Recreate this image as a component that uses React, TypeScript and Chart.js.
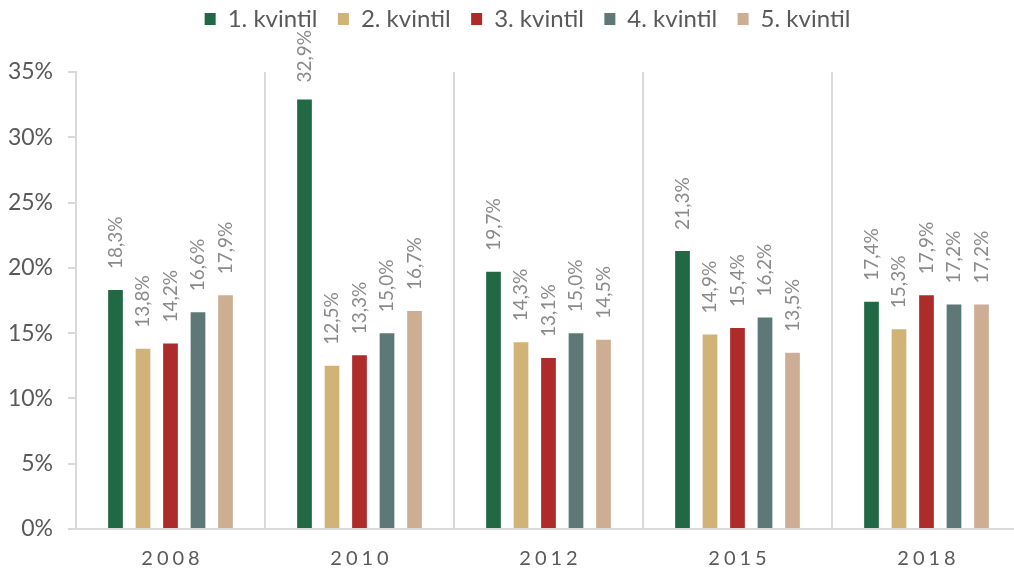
import React, { useEffect, useRef } from 'react';
import { Chart, registerables } from 'chart.js';

Chart.register(...registerables);

const FONT = 'Lato, "DejaVu Sans", sans-serif';

const categories = ['2008', '2010', '2012', '2015', '2018'];
const seriesNames = ['1. kvintil', '2. kvintil', '3. kvintil', '4. kvintil', '5. kvintil'];
const kvintil1 = [18.3, 32.9, 19.7, 21.3, 17.4];
const kvintil2 = [13.8, 12.5, 14.3, 14.9, 15.3];
const kvintil3 = [14.2, 13.3, 13.1, 15.4, 17.9];
const kvintil4 = [16.6, 15.0, 15.0, 16.2, 17.2];
const kvintil5 = [17.9, 16.7, 14.5, 13.5, 17.2];
const seriesValues = [kvintil1, kvintil2, kvintil3, kvintil4, kvintil5];
const seriesColors = ['#206944', '#d2b377', '#ad2c29', '#5d7877', '#ceae93'];
const yMin = 0;
const yMax = 35;
const yStep = 5;

const fmt = (v: number) => v.toFixed(1).replace('.', ',') + '%';

const LEGEND_PAD = 20.5;
const LEGEND_TOP = 19 - LEGEND_PAD - 12;

const legendHeight = {
  id: 'legendHeight',
  beforeInit(chart: any) {
    const orig = chart.legend.fit;
    chart.legend.fit = function fit() {
      orig.call(this);
      this.height = 72 - LEGEND_TOP;
    };
  },
  afterLayout(chart: any) {
    const lg = chart.legend;
    if (lg) {
      lg.left += 17;
      lg.right += 17;
    }
  },
};

const valueLabels = {
  id: 'valueLabels',
  afterDatasetsDraw(chart: any) {
    const ctx = chart.ctx;
    ctx.save();
    ctx.font = `19px ${FONT}`;
    ctx.fillStyle = '#8a8a8a';
    ctx.textAlign = 'left';
    ctx.textBaseline = 'middle';
    chart.data.datasets.forEach((ds: any, di: number) => {
      const meta = chart.getDatasetMeta(di);
      meta.data.forEach((bar: any, i: number) => {
        const text = fmt(ds.data[i]);
        const w = ctx.measureText(text).width;
        let start = bar.y - 21;
        if (start - w < 30) start = 30 + w;
        ctx.save();
        ctx.translate(bar.x, start);
        ctx.rotate(-Math.PI / 2);
        ctx.fillText(text, 0, 0);
        ctx.restore();
      });
    });
    ctx.restore();
  },
};

const xLabels = {
  id: 'xLabels',
  afterDraw(chart: any) {
    const ctx = chart.ctx;
    const xs = chart.scales.x;
    ctx.save();
    ctx.font = `20px ${FONT}`;
    ctx.fillStyle = '#595959';
    ctx.textAlign = 'left';
    ctx.textBaseline = 'alphabetic';
    const sp = 4;
    try { (ctx as any).letterSpacing = sp + 'px'; } catch (e) {}
    (chart.data.labels as string[]).forEach((c: string, i: number) => {
      const x = xs.getPixelForTick(i);
      const w = ctx.measureText(c).width - sp;
      ctx.fillText(c, x - w / 2, xs.top + 35.5);
    });
    ctx.restore();
  },
};

export default function App() {
  const ref = useRef<HTMLCanvasElement | null>(null);
  useEffect(() => {
    if (!ref.current) return;
    const chart = new Chart(ref.current, {
      type: 'bar',
      data: {
        labels: categories,
        datasets: seriesNames.map((name, i) => ({
          label: name,
          data: seriesValues[i],
          backgroundColor: seriesColors[i],
          borderWidth: 0,
          categoryPercentage: 0.7275,
          barPercentage: 0.535,
        })),
      },
      options: {
        animation: false,
        responsive: false,
        maintainAspectRatio: false,
        devicePixelRatio: 1,
        layout: { padding: { left: 0, right: 0, top: LEGEND_TOP, bottom: 0 } },
        plugins: {
          legend: {
            position: 'top',
            align: 'center',
            labels: {
              color: '#595959',
              font: { family: FONT, size: 24 },
              boxWidth: 11,
              boxHeight: 12,
              padding: LEGEND_PAD,
            },
          },
          tooltip: { enabled: false },
        },
        scales: {
          x: {
            grid: { display: true, offset: true, drawTicks: false, color: '#d9d9d9', lineWidth: 2 },
            border: { display: true, color: '#d9d9d9', width: 2 },
            ticks: { display: false },
            afterFit: (s: any) => { s.height = 41; },
          },
          y: {
            min: yMin,
            max: yMax,
            ticks: {
              stepSize: yStep,
              color: '#595959',
              font: { family: FONT, size: 23 },
              padding: 15,
              callback: (v: any) => v + '%',
            },
            grid: { drawOnChartArea: false, drawTicks: true, tickLength: 8, color: '#d9d9d9', lineWidth: 2 },
            border: { display: true, color: '#d9d9d9', width: 2 },
            afterFit: (s: any) => { s.width = 76; },
          },
        },
      },
      plugins: [legendHeight, valueLabels, xLabels],
    } as any);
    return () => chart.destroy();
  }, []);
  return (
    <div style={{ position: 'absolute', left: 0, top: 0, width: 1014, height: 570, overflow: 'hidden', background: '#fff' }}>
      <canvas ref={ref} width={1021} height={570} style={{ display: 'block', width: 1021, height: 570 }} />
    </div>
  );
}
